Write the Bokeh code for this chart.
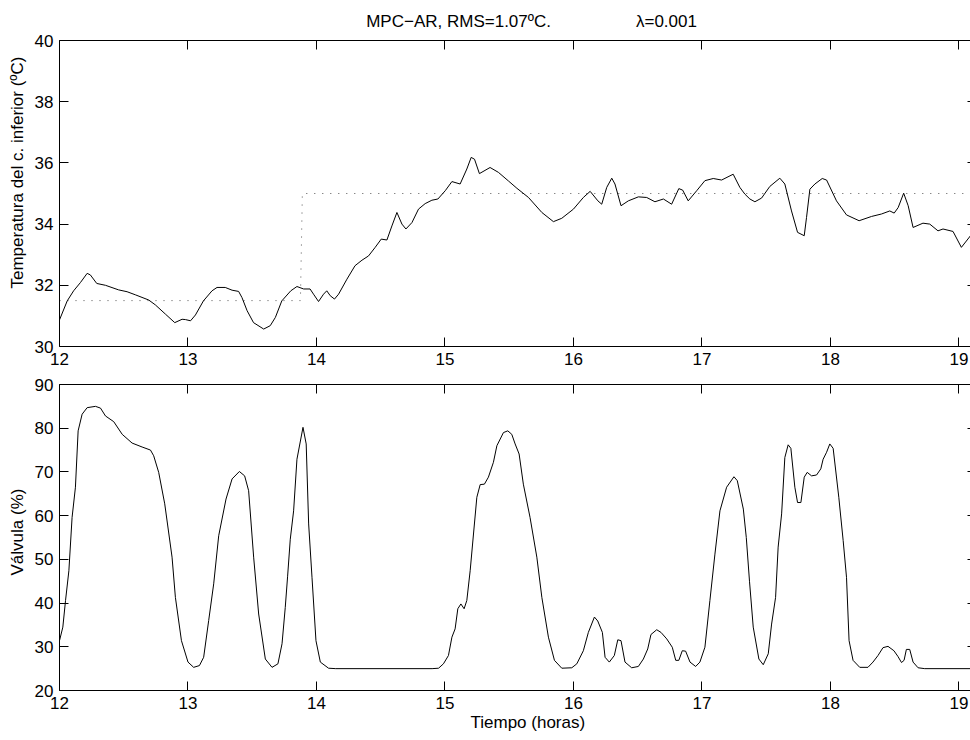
from bokeh.plotting import figure
from bokeh.models import Range1d, LinearAxis, FixedTicker, Title
from bokeh.layouts import column
from bokeh.embed import file_html
from bokeh.resources import INLINE

# ---------------- data ----------------
t_temp = [12.0, 12.06, 12.11, 12.163, 12.215, 12.24, 12.29, 12.358, 12.46, 12.526,
          12.59, 12.694, 12.746, 12.824, 12.897, 12.954, 12.98, 13.02, 13.058, 13.12,
          13.187, 13.226, 13.29, 13.343, 13.394, 13.42, 13.46, 13.51, 13.589, 13.64,
          13.68, 13.73, 13.80, 13.848, 13.90, 13.95, 13.977, 14.016, 14.055, 14.08,
          14.107, 14.14, 14.172, 14.237, 14.30, 14.354, 14.405, 14.457, 14.504, 14.548,
          14.587, 14.626, 14.665, 14.696, 14.743, 14.794, 14.846, 14.898, 14.945, 15.002,
          15.054, 15.118, 15.17, 15.204, 15.23, 15.268, 15.351, 15.416, 15.494, 15.56,
          15.65, 15.754, 15.844, 15.909, 16.0, 16.077, 16.13, 16.19, 16.22, 16.259,
          16.298, 16.323, 16.37, 16.427, 16.505, 16.57, 16.634, 16.70, 16.764, 16.82,
          16.85, 16.893, 16.959, 17.023, 17.088, 17.153, 17.243, 17.295, 17.334, 17.373,
          17.412, 17.464, 17.528, 17.606, 17.645, 17.697, 17.744, 17.796, 17.814, 17.84,
          17.879, 17.936, 17.97, 18.047, 18.125, 18.223, 18.32, 18.397, 18.462, 18.496,
          18.527, 18.57, 18.605, 18.643, 18.72, 18.773, 18.837, 18.876, 18.954, 19.019,
          19.09]
temp = [30.87, 31.49, 31.82, 32.09, 32.39, 32.34, 32.06, 32.0, 31.85, 31.79,
        31.69, 31.52, 31.36, 31.06, 30.78, 30.89, 30.88, 30.84, 31.03, 31.49,
        31.82, 31.93, 31.93, 31.84, 31.80, 31.6, 31.17, 30.78, 30.57, 30.68,
        30.95, 31.49, 31.82, 31.96, 31.88, 31.88, 31.71, 31.47, 31.71, 31.82,
        31.66, 31.55, 31.71, 32.20, 32.64, 32.82, 32.96, 33.24, 33.51, 33.48,
        33.94, 34.38, 34.0, 33.84, 34.05, 34.49, 34.67, 34.78, 34.82, 35.09,
        35.39, 35.31, 35.80, 36.18, 36.12, 35.65, 35.85, 35.69, 35.41, 35.17,
        34.87, 34.38, 34.08, 34.19, 34.49, 34.87, 35.07, 34.76, 34.65, 35.2,
        35.50, 35.31, 34.60, 34.76, 34.89, 34.87, 34.73, 34.82, 34.65, 35.16,
        35.11, 34.76, 35.09, 35.42, 35.49, 35.44, 35.63, 35.2, 34.98, 34.82,
        34.73, 34.85, 35.23, 35.50, 35.31, 34.43, 33.73, 33.62, 34.22, 35.14,
        35.31, 35.49, 35.44, 34.76, 34.30, 34.11, 34.25, 34.33, 34.43, 34.36,
        34.54, 35.01, 34.60, 33.89, 34.03, 34.0, 33.78, 33.84, 33.76, 33.24,
        33.62]

t_setpoint = [12.0, 13.875, 13.89, 19.1]
setpoint = [31.5, 31.5, 35.0, 35.0]

t_valve = [12.0, 12.026, 12.047, 12.073, 12.098, 12.124, 12.145, 12.176, 12.215, 12.28,
           12.319, 12.358, 12.422, 12.488, 12.565, 12.643, 12.708, 12.733, 12.772, 12.819,
           12.876, 12.902, 12.949, 13.0, 13.044, 13.089, 13.122, 13.161, 13.2, 13.239,
           13.296, 13.343, 13.4, 13.441, 13.472, 13.511, 13.55, 13.602, 13.654, 13.70,
           13.732, 13.757, 13.775, 13.796, 13.822, 13.848, 13.895, 13.92, 13.939, 13.965,
           13.996, 14.03, 14.094, 14.15, 14.9, 14.95, 14.988, 15.027, 15.054, 15.079,
           15.1, 15.124, 15.149, 15.17, 15.196, 15.222, 15.248, 15.274, 15.307, 15.338,
           15.377, 15.404, 15.455, 15.489, 15.52, 15.546, 15.577, 15.61, 15.662, 15.715,
           15.754, 15.805, 15.852, 15.909, 15.987, 16.026, 16.077, 16.116, 16.163, 16.189,
           16.225, 16.246, 16.279, 16.318, 16.345, 16.37, 16.401, 16.453, 16.505, 16.544,
           16.578, 16.603, 16.648, 16.681, 16.726, 16.769, 16.796, 16.82, 16.847, 16.873,
           16.907, 16.951, 16.984, 17.023, 17.062, 17.101, 17.14, 17.192, 17.249, 17.275,
           17.322, 17.345, 17.37, 17.399, 17.443, 17.477, 17.516, 17.542, 17.573, 17.593,
           17.62, 17.645, 17.671, 17.692, 17.723, 17.744, 17.77, 17.796, 17.819, 17.853,
           17.892, 17.925, 17.943, 17.97, 17.995, 18.021, 18.065, 18.099, 18.125, 18.145,
           18.176, 18.228, 18.292, 18.331, 18.37, 18.409, 18.448, 18.494, 18.525, 18.553,
           18.573, 18.591, 18.617, 18.643, 18.682, 18.734, 19.09]
valve = [31.4, 34.5, 40.6, 47.4, 59.6, 66.5, 79.4, 83.2, 84.7, 85.0,
         84.6, 82.8, 81.5, 78.6, 76.6, 75.7, 75.0, 73.7, 69.9, 62.7,
         50.5, 41.3, 31.4, 26.5, 25.3, 25.7, 27.6, 36.0, 44.4, 55.4,
         63.8, 68.4, 70.1, 69.1, 65.7, 50.5, 37.5, 27.2, 25.3, 26.1,
         30.7, 39.0, 46.0, 54.6, 61.1, 72.9, 80.2, 76.4, 58.1, 45.9,
         31.4, 26.5, 25.1, 25.0, 25.0, 25.1, 26.1, 28.0, 32.2, 34.1,
         38.7, 39.8, 38.7, 40.6, 47.4, 55.8, 64.2, 67.1, 67.2, 68.8,
         72.2, 76.0, 79.0, 79.4, 78.6, 76.4, 74.1, 67.2, 59.6, 50.5,
         41.3, 32.2, 26.9, 25.1, 25.2, 26.1, 29.1, 33.3, 36.8, 35.9,
         33.3, 27.6, 26.5, 28.0, 31.6, 31.4, 26.5, 25.2, 25.5, 27.2,
         29.5, 32.8, 33.9, 33.3, 31.8, 29.9, 26.9, 26.9, 29.1, 29.0,
         26.5, 25.5, 26.5, 29.9, 40.6, 51.2, 61.1, 66.5, 68.9, 68.0,
         61.5, 55.0, 45.0, 34.5, 27.2, 25.9, 28.4, 35.2, 41.3, 52.8,
         60.4, 73.3, 76.2, 75.4, 66.5, 63.0, 63.0, 68.8, 69.9, 69.1,
         69.3, 70.7, 72.9, 74.5, 76.4, 75.4, 64.2, 54.3, 45.9, 31.4,
         26.9, 25.3, 25.3, 26.5, 28.0, 29.8, 30.1, 29.1, 27.8, 26.4,
         26.9, 29.4, 29.4, 26.5, 25.2, 25.0, 25.0]

x_ticks = [12, 13, 14, 15, 16, 17, 18, 19]
temp_ticks = [30, 32, 34, 36, 38, 40]
valve_ticks = [20, 30, 40, 50, 60, 70, 80, 90]

title_text = "MPC\u2212AR, RMS=1.07\u00baC." + "\u00a0" * 18 + "\u03bb=0.001"
temp_label = "Temperatura del c. inferior (\u00baC)"
valve_label = "V\u00e1lvula (%)"
time_label = "Tiempo (horas)"

X_START, X_END = 12.0, 19.09
FONT = "Liberation Sans"
FS = "17px"


def style_axis(ax, ticks, labels=True, tick_in=9, line=True):
    ax.ticker = FixedTicker(ticks=ticks)
    ax.major_tick_in = tick_in
    ax.major_tick_out = 0
    ax.minor_tick_line_color = None
    ax.major_tick_line_color = "black"
    ax.major_tick_line_width = 1
    ax.axis_line_color = "black" if line else None
    ax.axis_line_width = 1
    if labels:
        ax.major_label_text_font = FONT
        ax.major_label_text_font_size = FS
        ax.major_label_text_color = "black"
        ax.major_label_standoff = 6
    else:
        # tick marks only: no tick labels are drawn on these axes
        ax.major_label_text_color = None
        ax.major_label_text_font_size = "0px"
        ax.major_label_standoff = 0


def make_fig(y0, y1, yticks, top, bottom):
    p = figure(width=970, height=370,
               x_range=Range1d(X_START, X_END), y_range=Range1d(y0, y1),
               output_backend="svg", toolbar_location=None, title_location=None,
               min_border_left=59, min_border_right=0,
               min_border_top=top, min_border_bottom=bottom)
    p.outline_line_color = None
    p.background_fill_color = "white"
    p.border_fill_color = "white"
    p.xgrid.visible = False
    p.ygrid.visible = False
    style_axis(p.xaxis[0], x_ticks)
    style_axis(p.yaxis[0], yticks)
    ax_top = LinearAxis()
    style_axis(ax_top, x_ticks, labels=False)
    p.add_layout(ax_top, "above")
    ax_right = LinearAxis()
    style_axis(ax_right, yticks, labels=False, tick_in=3, line=False)
    p.add_layout(ax_right, "right")
    return p


# ---------------- top panel ----------------
p1 = make_fig(30, 40, temp_ticks, 40, 24)
p1.line(t_setpoint, setpoint, line_color="#555555", line_width=1, line_dash="1 7")
p1.line(t_temp, temp, line_color="black", line_width=1)
p1.add_layout(Title(text=title_text, align="left", offset=306.7, vertical_align="middle",
                    standoff=18, text_font=FONT, text_font_size=FS,
                    text_font_style="normal", text_color="black"), "above")
p1.add_layout(Title(text=temp_label, align="left", offset=58, vertical_align="middle",
                    standoff=7, text_font=FONT, text_font_size=FS,
                    text_font_style="normal", text_color="black"), "left")

# ---------------- bottom panel ----------------
p2 = make_fig(20, 90, valve_ticks, 14, 50)
p2.line(t_valve, valve, line_color="black", line_width=1)
p2.add_layout(Title(text=valve_label, align="left", offset=115, vertical_align="middle",
                    standoff=7, text_font=FONT, text_font_size=FS,
                    text_font_style="normal", text_color="black"), "left")
p2.add_layout(Title(text=time_label, align="left", offset=411, vertical_align="middle",
                    standoff=1, text_font=FONT, text_font_size=FS,
                    text_font_style="normal", text_color="black"), "below")

layout = column(p1, p2, spacing=0)
open("out.html", "w").write(file_html(layout, INLINE))
